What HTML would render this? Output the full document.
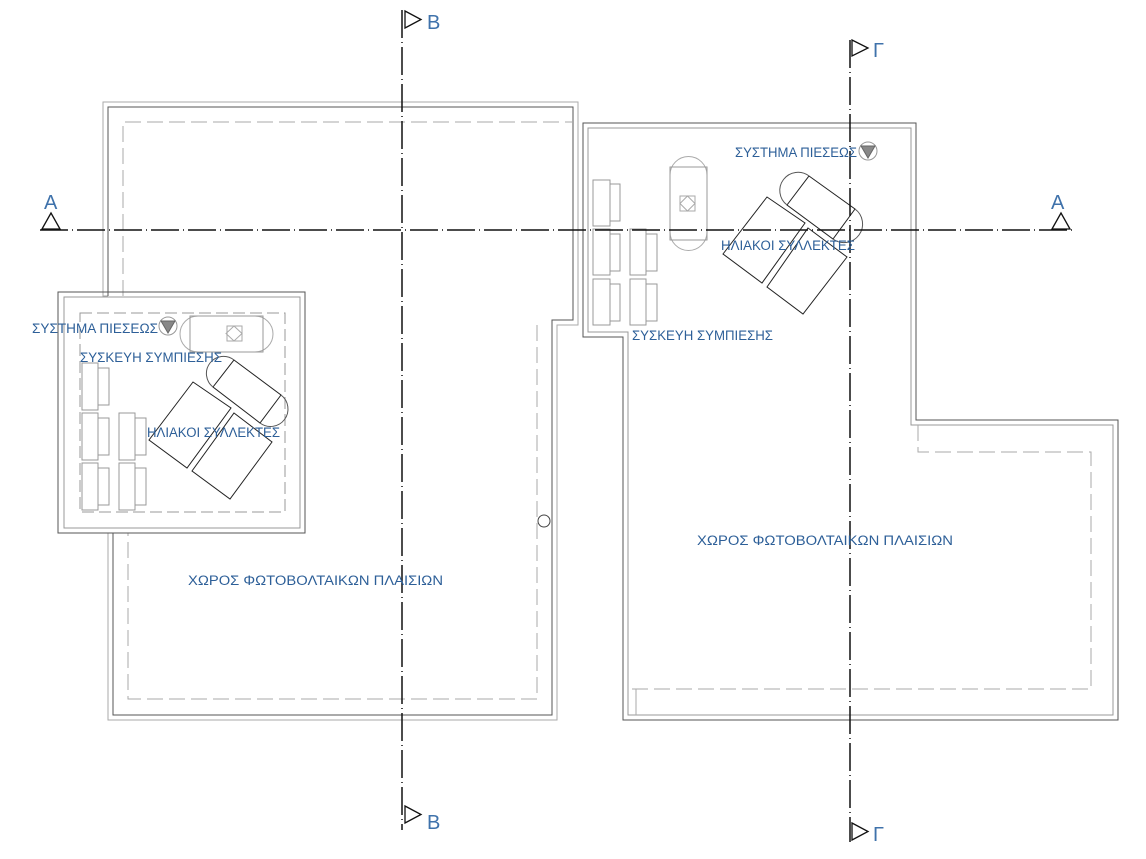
<!DOCTYPE html>
<html><head><meta charset="utf-8"><style>html,body{margin:0;padding:0;background:#fff}svg{display:block}text{font-family:"Liberation Sans","DejaVu Sans",sans-serif;fill:#2d5f98;font-size:13.5px}</style></head><body>
<svg width="1146" height="859" viewBox="0 0 1146 859" xmlns="http://www.w3.org/2000/svg">
<g fill="none" stroke-width="1">
<!-- left building -->
<polyline points="108,296 103,296 103,102 578,102 578,325 557,325 557,720 108,720 108,533" stroke="#aaa"/>
<polyline points="108,296 108,107 573,107 573,320 552,320 552,715 113,715 113,533" stroke="#555"/>
<polyline points="123,296 123,122 573,122" stroke="#aaa" stroke-dasharray="16,6"/>
<polyline points="537,325 537,699 128,699 128,533" stroke="#aaa" stroke-dasharray="16,6"/>
<circle cx="544" cy="521" r="6" stroke="#444"/>
<!-- annex -->
<rect x="58" y="292" width="247" height="241" stroke="#555"/>
<rect x="64" y="297" width="236" height="231" stroke="#999"/>
<rect x="80" y="313" width="205" height="199" stroke="#999" stroke-dasharray="12,5"/>
<path d="M198,316 H255 A18,18 0 0 1 255,352 H198 A18,18 0 0 1 198,316 Z" stroke="#aaa"/>
<rect x="190" y="316" width="73" height="36" stroke="#999"/>
<rect x="227" y="326" width="15" height="15" stroke="#aaa"/>
<polygon points="234,326 242,333.5 234,341 226,333.5" stroke="#aaa"/>
<circle cx="168" cy="326" r="9" stroke="#999"/>
<polygon points="161,321 175,321 168,333" fill="#888" stroke="#666"/>
<g stroke="#999">
<rect x="82" y="363" width="16" height="47"/><rect x="98" y="368" width="11" height="37"/>
<rect x="82" y="413" width="16" height="47"/><rect x="98" y="418" width="11" height="37"/>
<rect x="82" y="463" width="16" height="47"/><rect x="98" y="468" width="11" height="37"/>
<rect x="119" y="413" width="16" height="47"/><rect x="135" y="418" width="11" height="37"/>
<rect x="119" y="463" width="16" height="47"/><rect x="135" y="468" width="11" height="37"/>
</g>
<g stroke="#222">
<polygon points="193,382 231,408 187,468 149,440"/>
<polygon points="234,413 272,442 230,499 192,471"/>
<polygon points="234,360 281,395 260,423 213,387"/>
<path d="M234,360 A17,17 0 0 0 213,387" stroke="#555"/>
<path d="M281,395 A17,17 0 0 1 260,423" stroke="#555"/>
</g>
<!-- right building -->
<polygon points="583,123 916,123 916,420 1118,420 1118,720 623,720 623,337 583,337" stroke="#555"/>
<polygon points="588,128 911,128 911,425 1113,425 1113,715 628,715 628,332 588,332" stroke="#999"/>
<polyline points="918,425 918,452 1091,452 1091,689 628,689" stroke="#aaa" stroke-dasharray="16,6"/>
<line x1="636" y1="689" x2="636" y2="715" stroke="#aaa"/>
<path d="M670,175 A18.5,18.5 0 0 1 707,175 V232 A18.5,18.5 0 0 1 670,232 Z" stroke="#aaa"/>
<rect x="670" y="167" width="37" height="73" stroke="#999"/>
<rect x="680" y="196" width="15" height="15" stroke="#aaa"/>
<polygon points="687.5,196 695,203.5 687.5,211 680,203.5" stroke="#aaa"/>
<circle cx="868" cy="151" r="9" stroke="#999"/>
<polygon points="861,146 875,146 868,158" fill="#888" stroke="#666"/>
<g stroke="#999">
<rect x="593" y="180" width="17" height="46"/><rect x="610" y="184" width="10" height="37"/>
<rect x="593" y="229" width="17" height="46"/><rect x="610" y="234" width="10" height="37"/>
<rect x="593" y="279" width="17" height="46"/><rect x="610" y="284" width="10" height="37"/>
<rect x="630" y="229" width="16" height="46"/><rect x="646" y="234" width="11" height="37"/>
<rect x="630" y="279" width="16" height="46"/><rect x="646" y="284" width="11" height="37"/>
</g>
<g stroke="#222">
<polygon points="767,197 805,223 762,283 723,254"/>
<polygon points="808,228 847,257 803,314 767,287"/>
<polygon points="809,176 855,209 833,239 787,205"/>
<path d="M809,176 A17,17 0 0 0 787,205" stroke="#555"/>
<path d="M855,209 A17,17 0 0 1 833,239" stroke="#555"/>
</g>
<!-- section lines -->
<g stroke="#111" stroke-width="1.5" stroke-dasharray="28,4,1,4">
<line x1="40" y1="230" x2="1072" y2="230"/>
<line x1="402" y1="10" x2="402" y2="830"/>
<line x1="850" y1="40" x2="850" y2="842"/>
</g>
<g stroke="#111" stroke-width="1.3">
<polygon points="51,213 60,229 42,229"/>
<polygon points="1061,213 1070,229 1052,229"/>
<polygon points="405,11 421,19.5 405,28"/>
<polygon points="405,806 421,814.5 405,823"/>
<polygon points="852,40 868,48 852,56"/>
<polygon points="852,823 868,831.5 852,840"/>
</g>
</g>
<g>
<text x="44" y="209" style="font-size:20px;fill:#3f72ab">A</text>
<text x="1051" y="209" style="font-size:20px;fill:#3f72ab">A</text>
<text x="427" y="29" style="font-size:20px;fill:#3f72ab">B</text>
<text x="427" y="829" style="font-size:20px;fill:#3f72ab">B</text>
<text x="873" y="57" style="font-size:20px;fill:#3f72ab">Γ</text>
<text x="873" y="841" style="font-size:20px;fill:#3f72ab">Γ</text>
<text x="32" y="333" textLength="126" lengthAdjust="spacingAndGlyphs">ΣΥΣΤΗΜΑ ΠΙΕΣΕΩΣ</text>
<text x="80" y="362" textLength="142" lengthAdjust="spacingAndGlyphs">ΣΥΣΚΕΥΗ ΣΥΜΠΙΕΣΗΣ</text>
<text x="147" y="437" textLength="133" lengthAdjust="spacingAndGlyphs">ΗΛΙΑΚΟΙ ΣΥΛΛΕΚΤΕΣ</text>
<text x="188" y="585" textLength="255" lengthAdjust="spacingAndGlyphs">ΧΩΡΟΣ ΦΩΤΟΒΟΛΤΑΙΚΩΝ ΠΛΑΙΣΙΩΝ</text>
<text x="735" y="157" textLength="122" lengthAdjust="spacingAndGlyphs">ΣΥΣΤΗΜΑ ΠΙΕΣΕΩΣ</text>
<text x="721" y="250" textLength="134" lengthAdjust="spacingAndGlyphs">ΗΛΙΑΚΟΙ ΣΥΛΛΕΚΤΕΣ</text>
<text x="632" y="340" textLength="141" lengthAdjust="spacingAndGlyphs">ΣΥΣΚΕΥΗ ΣΥΜΠΙΕΣΗΣ</text>
<text x="697" y="545" textLength="256" lengthAdjust="spacingAndGlyphs">ΧΩΡΟΣ ΦΩΤΟΒΟΛΤΑΙΚΩΝ ΠΛΑΙΣΙΩΝ</text>
</g>
</svg>
</body></html>
